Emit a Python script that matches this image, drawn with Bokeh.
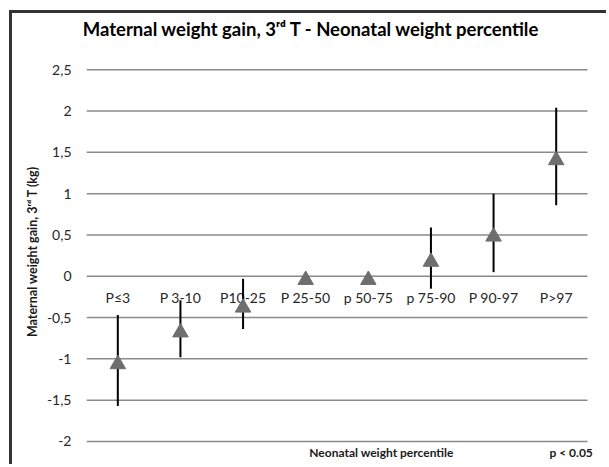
from bokeh.plotting import figure
from bokeh.models import Range1d, FixedTicker, ColumnDataSource, LinearAxis, Label
from bokeh.core.properties import value
from bokeh.embed import file_html
from bokeh.resources import INLINE

categories = ["P≤3", "P 3-10", "P10-25", "P 25-50", "p 50-75", "p 75-90", "P 90-97", "P>97"]
means = [-1.02, -0.635, -0.335, 0.0, 0.0, 0.22, 0.525, 1.45]
errors = [0.55, 0.345, 0.305, 0.0, 0.0, 0.37, 0.475, 0.59]
y_ticks = [-2.0, -1.5, -1.0, -0.5, 0.0, 0.5, 1.0, 1.5, 2.0, 2.5]
y_tick_labels = ["-2", "-1,5", "-1", "-0,5", "0", "0,5", "1", "1,5", "2", "2,5"]

title_text = "Maternal weight gain, 3ʳᵈ T - Neonatal weight percentile"
y_title = "Maternal weight gain, 3ʳᵈ T (kg)"
x_title = "Neonatal weight percentile"
p_note = "p < 0.05"

FONT = "Lato"

# layout (page pixels)
FRAME_L, FRAME_R, FRAME_T, FRAME_B = 86, 609, 61, 467
PX_PER_CAT = 62.625
PX_PER_UNIT = 82.6
Y_TOP = 2.6

n = len(categories)
idx = list(range(n))
lower = [m - e for m, e in zip(means, errors)]
upper = [m + e for m, e in zip(means, errors)]
src = ColumnDataSource(dict(x=idx, cat=categories, mean=means, lower=lower, upper=upper))
grid_src = ColumnDataSource(dict(y=y_ticks, x0=[-0.5] * len(y_ticks), x1=[n - 0.5] * len(y_ticks)))

x_end = -0.5 + (FRAME_R - FRAME_L) / PX_PER_CAT
y_bottom = Y_TOP - (FRAME_B - FRAME_T) / PX_PER_UNIT

p = figure(width=597, height=454, x_range=Range1d(-0.5, x_end),
           y_range=Range1d(y_bottom, Y_TOP), output_backend="svg", toolbar_location=None,
           x_axis_location=None, title=None,
           min_border_left=74, min_border_right=0, min_border_top=48, min_border_bottom=0)
p.styles = {"border-top": "3px solid #333333", "border-left": "3px solid #333333",
            "margin-left": "9px", "margin-top": "10px"}
p.outline_line_color = None
p.background_fill_color = "white"
p.border_fill_color = "white"
p.xgrid.visible = False
p.ygrid.visible = False

p.yaxis.ticker = FixedTicker(ticks=y_ticks)
p.yaxis.major_label_overrides = {t: l for t, l in zip(y_ticks, y_tick_labels)}
p.yaxis.axis_line_color = None
p.yaxis.major_tick_line_color = None
p.yaxis.minor_tick_line_color = None
p.yaxis.major_tick_out = 0
p.yaxis.major_label_standoff = 15
p.yaxis.major_label_text_font = FONT
p.yaxis.major_label_text_font_size = "14px"
p.yaxis.major_label_text_color = "#262626"

# pixel-like helper ranges for the text placed around the plot
p.extra_x_ranges = {"px": Range1d(FRAME_L, FRAME_R)}
p.extra_y_ranges = {"py": Range1d(FRAME_B, FRAME_T),
                    "mk": Range1d(y_bottom + 0.045, Y_TOP + 0.045)}


def text_axis(ticks, labels, size, standoff, **kw):
    ax = LinearAxis(ticker=FixedTicker(ticks=ticks),
                    major_label_overrides={t: l for t, l in zip(ticks, labels)}, **kw)
    ax.axis_line_color = None
    ax.major_tick_line_color = None
    ax.minor_tick_line_color = None
    ax.major_tick_out = 0
    ax.major_tick_in = 0
    ax.major_label_standoff = standoff
    ax.major_label_text_font = FONT
    ax.major_label_text_font_style = "bold"
    ax.major_label_text_font_size = size
    ax.major_label_text_color = "black"
    return ax


p.add_layout(text_axis([311], [title_text], "18.5px", 22, x_range_name="px"), "above")
ylab = text_axis([251], [y_title], "12.5px", 4, y_range_name="py")
ylab.major_label_orientation = "vertical"
ylab.major_label_text_color = "#1a1a1a"
p.add_layout(ylab, "left")

for txt, xpos, align in [(x_title, 381, "center"), (p_note, 592.3, "right")]:
    p.add_layout(Label(x=xpos, y=452, x_range_name="px", y_range_name="py", text=txt,
                       text_align=align, text_baseline="middle", text_font=FONT,
                       text_font_style="bold", text_font_size="12px", text_color="#1a1a1a"))

p.segment(x0="x0", y0="y", x1="x1", y1="y", source=grid_src, line_color="#8a8a8a", line_width=1.5)

p.text(x="x", y=0, text="cat", source=src, y_offset=21.5, text_align="center",
       text_baseline="middle", text_font=value(FONT), text_font_size="14px", text_color="#262626")

p.segment(x0="x", y0="lower", x1="x", y1="upper", source=src, line_color="black", line_width=2)
p.scatter(x="x", y="mean", marker="triangle", size=15.5, fill_color="#6e6e6e",
          line_color="#6e6e6e", source=src, y_range_name="mk")

open("out.html", "w").write(file_html(p, INLINE))
